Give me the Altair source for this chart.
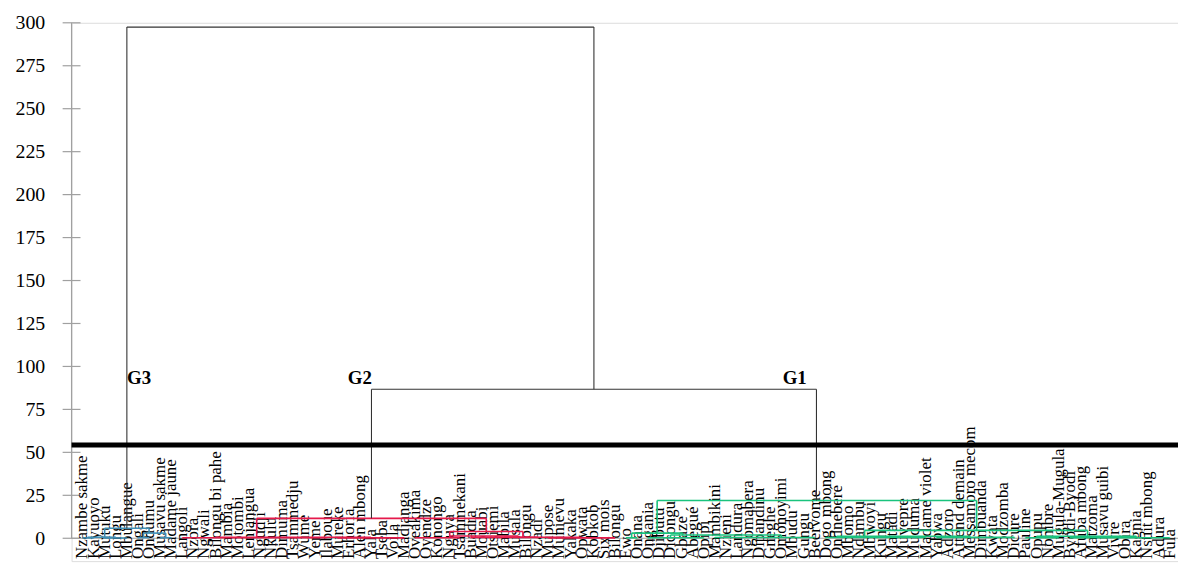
import altair as alt
import pandas as pd

# ---------------- data ----------------
leaves = [
    "Nzambe sakme", "Kayuoyo", "Mutuku", "Longu", "Mbulangue", "Ongali", "Ondumu",
    "Musavu sakme", "Madame jaune", "Langoli", "Nzora", "Ngwali", "Bilongu bi pahe",
    "Mambia", "Motombi", "Lenjangua", "Ngudji", "Nkulu", "Dimuma", "Tsammedju", "Wume",
    "Yeme", "Ilaboue", "Mureke", "Erhoria", "Alen mbong", "Yala", "Tseba", "Voila",
    "Madjanga", "Oveakima", "Oyendze", "Konongo", "Nguya", "Tsammekani", "Buadra",
    "Mouabi", "Otsiemi", "Mabila", "Musala", "Bilongu", "Nzadi", "Mupose", "Munievu",
    "Yakaka", "Opwata", "Kobkob", "Six mois", "Bilongu", "Ewo", "Onana", "Ongania",
    "Djibutu", "Dicongu", "Gbaze", "Abegué", "Opipi", "Mambikini", "Nzieni", "Landura",
    "Ngomabera", "Dipandinu", "Gneghe", "Omonoyimi", "Mbudu", "Gungu", "Beervome",
    "Dogo mbong", "Ondneberé", "Mbomo", "Ndambu", "Mbwoyi", "Kungu", "Matadi", "Muvepre",
    "Muduma", "Madame violet", "Yabwa", "Adzoro", "Attend demain", "Messamoro mecom",
    "Dimbuanda", "Kwata", "Modzomba", "Dicure", "Pauline", "Opupu", "Nombre",
    "Mugula-Mugula", "Byodi-Byodi", "Afuba mbong", "Matzoma", "Musavu guibi", "Vivre",
    "Obira", "Kagnia", "Nsuit mbong", "Adura", "Fula",
]

y_ticks = [0, 25, 50, 75, 100, 125, 150, 175, 200, 225, 250, 275, 300]
cut_height = [54.3]

group_names = ["G3", "G2", "G1"]
group_pos = [5.1, 25.0, 64.2]
group_height = [93.5, 93.5, 93.5]

# merges: left position, right position (leaf-index units), merge height,
# height of left child, height of right child, cluster
m_left = [4.0, 26.05,
          0, 2, 0.5, 5, 7, 5.5, 2.0,
          9, 23, 12, 30, 35, 33.1, 42, 38, 33.1, 15.7,
          49, 51, 49.5, 53, 57, 67, 68, 77, 86, 85, 89, 70.5, 51.8]
m_right = [46.1, 66.16,
           1, 4, 3.0, 6, 8, 7.5, 6.0,
           22, 29, 26, 34, 41, 39.3, 48, 45, 39.7, 36.4,
           50, 56, 54.1, 63, 66, 76, 80, 84, 95, 88, 98, 90.6, 80.6]
m_height = [297.5, 86.7,
            0.2, 0.15, 0.6, 0.4, 0.3, 3.0, 5.8,
            0.3, 0.2, 0.6, 0.3, 0.5, 1.3, 0.2, 0.6, 3.9, 11.6,
            0.3, 0.3, 3.0, 1.9, 0.4, 0.4, 1.2, 0.5, 1.2, 0.3, 0.3, 4.6, 22.0]
m_left_h = [5.8, 11.6,
            0, 0, 0.2, 0, 0, 0.4, 0.6,
            0, 0, 0.3, 0, 0, 0.3, 0, 0.5, 1.3, 0.6,
            0, 0, 0.3, 0.3, 0, 0, 0.4, 0, 0.3, 0, 0, 1.2, 3.0]
m_right_h = [86.7, 22.0,
             0, 0, 0.15, 0, 0, 0.3, 3.0,
             0, 0, 0.2, 0, 0, 0.5, 0, 0.2, 0.6, 3.9,
             0, 0, 1.9, 0.4, 0, 0, 0.5, 0, 0.3, 0, 0, 1.2, 4.6]
m_group = ["k", "k",
           "b", "b", "b", "b", "b", "b", "b",
           "r", "r", "r", "r", "r", "r", "r", "r", "r", "r",
           "g", "g", "g", "g", "g", "g", "g", "g", "g", "g", "g", "g", "g"]

# ---------------- build tables ----------------
segs = []
for xl, xr, h, hl, hr, g in zip(m_left, m_right, m_height, m_left_h, m_right_h, m_group):
    segs.append({"x": xl, "x2": xr, "y": h, "y2": h, "grp": g})
    segs.append({"x": xl, "x2": xl, "y": hl, "y2": h, "grp": g})
    segs.append({"x": xr, "x2": xr, "y": hr, "y2": h, "grp": g})
seg_df = pd.DataFrame(segs)

leaf_df = pd.DataFrame({"pos": list(range(len(leaves))), "name": leaves,
                        "ly": [-12.1] * len(leaves)})
tick_df = pd.DataFrame({"v": y_ticks})
cut_df = pd.DataFrame({"h": cut_height})
glab_df = pd.DataFrame({"name": group_names, "pos": group_pos, "h": group_height})

W, H = 1114, 542
FONT = "Liberation Serif"

xs = alt.Scale(domain=[-0.985, 98.75], nice=False, zero=False)
ys = alt.Scale(domain=[-13.3, 300], nice=False, zero=False)

X = lambda f: alt.X(f, type="quantitative", scale=xs, axis=None)
Y_axis = alt.Axis(values=y_ticks, tickSize=0, domain=False, grid=False,
                  labelFont=FONT, labelFontSize=20, labelColor="#000",
                  labelPadding=27, title=None)

# axis line and ticks (gray)
axis_line = alt.Chart(tick_df).transform_aggregate(
    lo="min(v)", hi="max(v)"
).mark_rule(color="#a0a0a0", strokeWidth=1.2).encode(
    x=alt.value(0),
    y=alt.Y("lo:Q", scale=ys, axis=Y_axis),
    y2="hi:Q",
)
ticks = alt.Chart(tick_df).mark_rule(color="#a0a0a0", strokeWidth=1.2).encode(
    y=alt.Y("v:Q", scale=ys),
    x=alt.value(-9), x2=alt.value(9),
)
baseline = alt.Chart(tick_df).transform_filter("datum.v == 0").mark_rule(
    color="#a0a0a0", strokeWidth=1.2).encode(
    y=alt.Y("v:Q", scale=ys), x=alt.value(0), x2=alt.value(W),
)

color_scale = alt.Scale(domain=["k", "b", "r", "g"],
                        range=["#333333", "#3f8fb5", "#e5194b", "#19c37d"])

black_lines = alt.Chart(seg_df).transform_filter("datum.grp == 'k'").mark_rule(
    strokeWidth=1.1).encode(
    x=X("x"), x2="x2", y=alt.Y("y:Q", scale=ys), y2="y2",
    color=alt.Color("grp:N", scale=color_scale, legend=None),
)
color_lines = alt.Chart(seg_df).transform_filter("datum.grp != 'k'").mark_rule(
    strokeWidth=1.6).encode(
    x=X("x"), x2="x2", y=alt.Y("y:Q", scale=ys), y2="y2",
    color=alt.Color("grp:N", scale=color_scale, legend=None),
)

cut_line = alt.Chart(cut_df).mark_rule(color="#000", strokeWidth=5).encode(
    y=alt.Y("h:Q", scale=ys), x=alt.value(0), x2=alt.value(W),
)

leaf_text = alt.Chart(leaf_df).mark_text(
    angle=270, align="left", baseline="middle", font=FONT, fontSize=17,
    color="#000",
).encode(
    x=X("pos"), y=alt.Y("ly:Q", scale=ys), text="name:N",
)

group_text = alt.Chart(glab_df).mark_text(
    font=FONT, fontSize=19, fontWeight="bold", color="#000", baseline="middle",
).encode(
    x=X("pos"), y=alt.Y("h:Q", scale=ys), text="name:N",
)

chart = alt.layer(
    axis_line, ticks, baseline, leaf_text, color_lines, black_lines, cut_line, group_text
).properties(
    width=W, height=H,
    autosize=alt.AutoSizeParams(type="none"),
    padding={"left": 64, "top": 13, "right": 0, "bottom": 0},
).configure_view(stroke=None).configure(background="white")

chart.save("out.html", embed_options={"renderer": "svg", "actions": False})
